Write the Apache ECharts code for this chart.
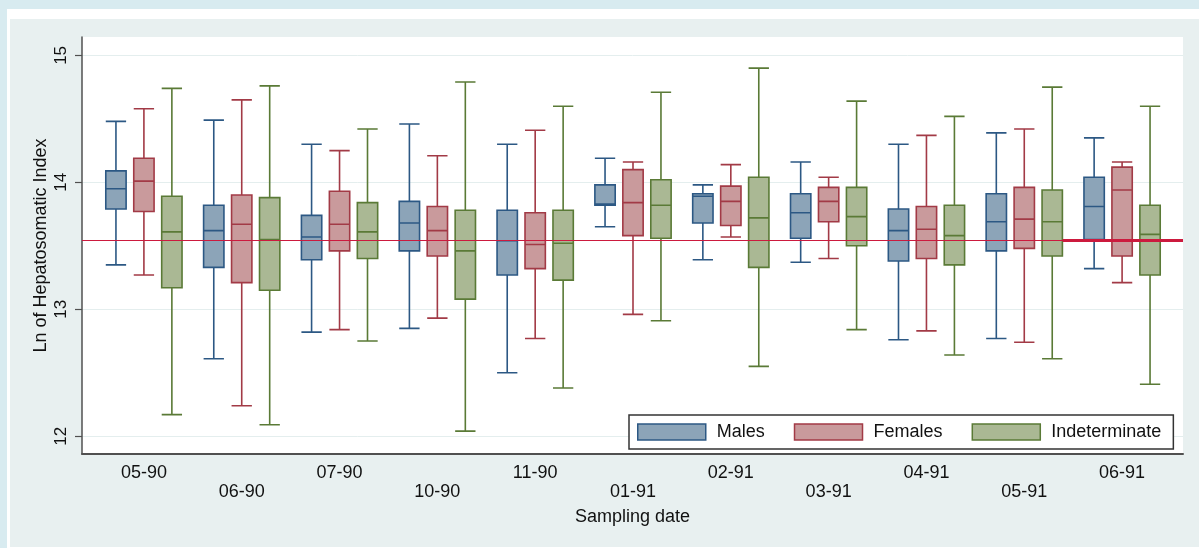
<!DOCTYPE html>
<html>
<head>
<meta charset="utf-8">
<script src="https://cdn.jsdelivr.net/npm/echarts@6/dist/echarts.min.js"></script>
<style>
  html, body { margin: 0; padding: 0; }
  body { width: 1199px; height: 548px; background: #d8ebf0; position: relative; overflow: hidden; }
  #white { position: absolute; left: 7px; top: 9px; right: 0; bottom: 0; background: #ffffff; }
  #panel { position: absolute; left: 10px; top: 19px; right: 0; bottom: 1px; background: #e8f0f0; }
  #chart { position: absolute; left: 0; top: 0; width: 1199px; height: 548px; }
</style>
</head>
<body>
<div id="white"></div>
<div id="panel"></div>
<div id="chart"></div>
<script>
// ---- data ----
const categories = ['05-90','06-90','07-90','10-90','11-90','01-91','02-91','03-91','04-91','05-91','06-91'];
// each row: [lower whisker, Q1, median, Q3, upper whisker]
const males = [
  [13.35,13.79,13.95,14.09,14.48],
  [12.61,13.33,13.62,13.82,14.49],
  [12.82,13.39,13.57,13.74,14.30],
  [12.85,13.46,13.68,13.85,14.46],
  [12.50,13.27,13.54,13.78,14.30],
  [13.65,13.82,13.83,13.98,14.19],
  [13.39,13.68,13.89,13.91,13.98],
  [13.37,13.56,13.76,13.91,14.16],
  [12.76,13.38,13.62,13.79,14.30],
  [12.77,13.46,13.69,13.91,14.39],
  [13.32,13.55,13.81,14.04,14.35]
];
const females = [
  [13.27,13.77,14.01,14.19,14.58],
  [12.24,13.21,13.67,13.90,14.65],
  [12.84,13.46,13.67,13.93,14.25],
  [12.93,13.42,13.62,13.81,14.21],
  [12.77,13.32,13.51,13.76,14.41],
  [12.96,13.58,13.84,14.10,14.16],
  [13.57,13.66,13.85,13.97,14.14],
  [13.40,13.69,13.85,13.96,14.04],
  [12.83,13.40,13.63,13.81,14.37],
  [12.74,13.48,13.71,13.96,14.42],
  [13.21,13.42,13.94,14.12,14.16]
];
const indeterminate = [
  [12.17,13.17,13.61,13.89,14.74],
  [12.09,13.15,13.55,13.88,14.76],
  [12.75,13.40,13.61,13.84,14.42],
  [12.04,13.08,13.46,13.78,14.79],
  [12.38,13.23,13.52,13.78,14.60],
  [12.91,13.56,13.82,14.02,14.71],
  [12.55,13.33,13.72,14.04,14.90],
  [12.84,13.50,13.73,13.96,14.64],
  [12.64,13.35,13.58,13.82,14.52],
  [12.61,13.42,13.69,13.94,14.75],
  [12.41,13.27,13.59,13.82,14.60]
];
const yTicks = [12, 13, 14, 15];
const refLine = 13.54;
const seriesNames = ['Males', 'Females', 'Indeterminate'];

// ---- styling ----
const FONT = '"Liberation Sans", Arial, sans-serif';
const fills = ['#8ca4b8', '#c99a9c', '#aab894'];
const borders = ['#2c5884', '#a23a46', '#5a7a36'];
const yMin = 11.86, yMax = 15.145;
const frameXMin = -0.634, frameXMax = 10.62;
const thickRefStart = 9.39;

const chart = echarts.init(document.getElementById('chart'), null, { renderer: 'canvas' });

const boxSeries = [males, females, indeterminate].map((d, i) => ({
  name: seriesNames[i],
  type: 'boxplot',
  xAxisIndex: 1,
  yAxisIndex: 1,
  z: 3,
  data: d,
  itemStyle: { color: fills[i], borderColor: borders[i], borderWidth: 1.6 },
  emphasis: { disabled: true }
}));

chart.setOption({
  animation: false,
  textStyle: { fontFamily: FONT },
  grid: [
    { left: 82, right: 16, top: 37, bottom: 94, show: true, backgroundColor: '#ffffff', borderWidth: 0, containLabel: false },
    { left: 95, right: 28, top: 37, bottom: 94, containLabel: false }
  ],
  legend: {
    data: seriesNames.map((n, i) => ({
      name: n,
      itemStyle: { color: fills[i], borderColor: borders[i], borderWidth: 1.5 }
    })),
    left: 629, top: 415,
    orient: 'horizontal',
    icon: 'rect',
    itemWidth: 68, itemHeight: 16, itemGap: 29,
    padding: [8, 12, 8, 8],
    backgroundColor: '#ffffff',
    borderColor: '#333333', borderWidth: 1.5, borderRadius: 0,
    textStyle: { fontFamily: FONT, fontSize: 18, color: '#111', lineHeight: 16, padding: [0, 0, 0, 6] },
    selectedMode: false
  },
  xAxis: [
    {
      type: 'value', gridIndex: 0, min: frameXMin, max: frameXMax,
      axisLine: { show: true, onZero: false, lineStyle: { color: '#505050', width: 2 } },
      axisTick: { show: false }, axisLabel: { show: false }, splitLine: { show: false },
      name: 'Sampling date', nameLocation: 'middle', nameGap: 54, nameMoveOverlap: false,
      nameTextStyle: { fontFamily: FONT, fontSize: 18, color: '#111' }
    },
    {
      type: 'category', gridIndex: 1, data: categories, boundaryGap: true,
      axisLine: { show: false }, axisTick: { show: false }, splitLine: { show: false },
      axisLabel: {
        interval: 0, margin: 10, fontFamily: FONT, fontSize: 18, color: '#111', lineHeight: 19,
        formatter: (v, idx) => (idx % 2 === 1 ? '\n' + v : v)
      }
    }
  ],
  yAxis: [
    {
      type: 'value', gridIndex: 0, min: yMin, max: yMax,
      axisLine: { show: true, onZero: false, lineStyle: { color: '#505050', width: 1.5 } },
      axisTick: { show: true, length: 7, customValues: yTicks, lineStyle: { color: '#505050', width: 1.2 } },
      axisLabel: { show: true, customValues: yTicks, rotate: 90, margin: 12, fontFamily: FONT, fontSize: 17, color: '#111' },
      splitLine: { show: true, lineStyle: { color: '#e4eeee', width: 1 } },
      name: 'Ln of Hepatosomatic Index', nameLocation: 'middle', nameGap: 32, nameRotate: 90, nameMoveOverlap: false,
      nameTextStyle: { fontFamily: FONT, fontSize: 18, color: '#111' }
    },
    {
      type: 'value', gridIndex: 1, min: yMin, max: yMax, show: false,
      splitLine: { show: false }
    }
  ],
  series: [
    {
      name: 'ref', type: 'line', xAxisIndex: 0, yAxisIndex: 0, data: [], z: 1, silent: true,
      markLine: {
        silent: true, symbol: 'none', label: { show: false }, animation: false,
        data: [
          { yAxis: refLine, lineStyle: { color: '#cc1a3e', width: 1.2, type: 'solid' } },
          [ { coord: [thickRefStart, refLine], lineStyle: { color: '#cc1a3e', width: 3, type: 'solid' } },
            { coord: [frameXMax, refLine] } ]
        ]
      }
    }
  ].concat(boxSeries)
});
</script>
</body>
</html>
